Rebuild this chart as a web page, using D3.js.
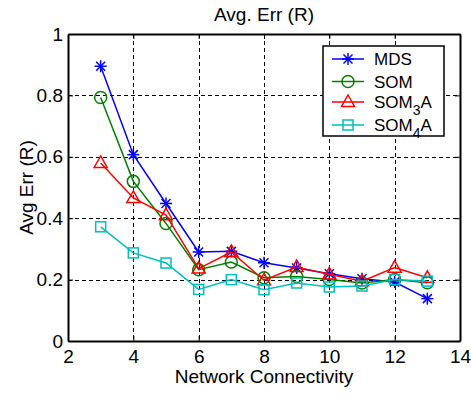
<!DOCTYPE html>
<html>
<head>
<meta charset="utf-8">
<script src="https://cdn.jsdelivr.net/npm/d3@7"></script>
<style>
  body { margin: 0; background: #fff; }
  svg { display: block; font-family: "Liberation Sans", Arial, sans-serif; }
</style>
</head>
<body>
<div id="chart"></div>
<script>
// data
const connectivity = [3, 4, 5, 6, 7, 8, 9, 10, 11, 12, 13];
const mds   = [0.895, 0.607, 0.448, 0.290, 0.292, 0.255, 0.238, 0.219, 0.203, 0.192, 0.138];
const som   = [0.793, 0.520, 0.383, 0.232, 0.257, 0.206, 0.210, 0.200, 0.189, 0.200, 0.190];
const som3a = [0.580, 0.466, 0.410, 0.236, 0.290, 0.198, 0.241, 0.217, 0.195, 0.239, 0.206];
const som4a = [0.372, 0.287, 0.254, 0.168, 0.200, 0.167, 0.189, 0.176, 0.179, 0.200, 0.195];
const xTicks = [2, 4, 6, 8, 10, 12, 14];
const yTicks = [0, 0.2, 0.4, 0.6, 0.8, 1];

const series = [
  { name: "MDS", sub: null, values: mds, color: "#0000ff", marker: "star" },
  { name: "SOM", sub: null, values: som, color: "#008000", marker: "circle" },
  { name: "SOM", sub: "3", values: som3a, color: "#ff0000", marker: "triangle" },
  { name: "SOM", sub: "4", values: som4a, color: "#00bfbf", marker: "square" }
];

const W = 471, H = 394;
const margin = { top: 34, right: 11, bottom: 53, left: 68 };
const fontSize = 19;

const svg = d3.select("#chart").append("svg")
  .attr("width", W).attr("height", H);

const x = d3.scaleLinear().domain([2, 14]).range([margin.left, W - margin.right]);
const y = d3.scaleLinear().domain([0, 1]).range([H - margin.bottom, margin.top]);

// grid
const grid = svg.append("g").attr("stroke", "#000").attr("stroke-width", 1)
  .attr("stroke-dasharray", "4,3").attr("shape-rendering", "crispEdges");
grid.selectAll(".gx").data(xTicks.slice(1, -1)).enter().append("line")
  .attr("x1", d => Math.round(x(d)) + 0.5).attr("x2", d => Math.round(x(d)) + 0.5)
  .attr("y1", y(1)).attr("y2", y(0));
grid.selectAll(".gy").data(yTicks.slice(1, -1)).enter().append("line")
  .attr("y1", d => Math.round(y(d)) + 0.5).attr("y2", d => Math.round(y(d)) + 0.5)
  .attr("x1", x(2)).attr("x2", x(14));

// axes (ticks inside)
const axB = svg.append("g").attr("transform", `translate(0,${y(0)})`)
  .call(d3.axisBottom(x).tickValues(xTicks).tickSizeInner(-5).tickSizeOuter(0).tickPadding(9));
const axL = svg.append("g").attr("transform", `translate(${x(2)},0)`)
  .call(d3.axisLeft(y).tickValues(yTicks).tickSizeInner(-5).tickSizeOuter(0).tickPadding(5).tickFormat(d3.format("")));
const axT = svg.append("g").attr("transform", `translate(0,${y(1)})`)
  .call(d3.axisTop(x).tickValues(xTicks).tickSizeInner(-5).tickSizeOuter(0).tickFormat(""));
const axR = svg.append("g").attr("transform", `translate(${x(14)},0)`)
  .call(d3.axisRight(y).tickValues(yTicks).tickSizeInner(-5).tickSizeOuter(0).tickFormat(""));
[axB, axL, axT, axR].forEach(a => {
  a.select(".domain").attr("stroke", "#000").attr("stroke-width", 2);
  a.selectAll(".tick line").attr("stroke", "#000");
  a.selectAll(".tick text").attr("fill", "#000").style("font-size", fontSize + "px")
    .style("font-family", "'Liberation Sans', Arial, sans-serif");
});

// markers
function drawMarker(g, type, color, cx, cy) {
  const s = 6;
  if (type === "star") {
    const p = g.append("g").attr("stroke", color).attr("stroke-width", 1.5);
    p.append("line").attr("x1", cx - s).attr("x2", cx + s).attr("y1", cy).attr("y2", cy);
    p.append("line").attr("x1", cx).attr("x2", cx).attr("y1", cy - s).attr("y2", cy + s);
    p.append("line").attr("x1", cx - s * 0.75).attr("x2", cx + s * 0.75).attr("y1", cy - s * 0.75).attr("y2", cy + s * 0.75);
    p.append("line").attr("x1", cx - s * 0.75).attr("x2", cx + s * 0.75).attr("y1", cy + s * 0.75).attr("y2", cy - s * 0.75);
  } else if (type === "circle") {
    g.append("circle").attr("cx", cx).attr("cy", cy).attr("r", 6)
      .attr("fill", "none").attr("stroke", color).attr("stroke-width", 1.5);
  } else if (type === "triangle") {
    g.append("path").attr("d", `M${cx},${cy - 7}L${cx + 6.5},${cy + 4.5}L${cx - 6.5},${cy + 4.5}Z`)
      .attr("fill", "none").attr("stroke", color).attr("stroke-width", 1.5);
  } else {
    g.append("rect").attr("x", cx - 5).attr("y", cy - 5).attr("width", 10).attr("height", 10)
      .attr("fill", "none").attr("stroke", color).attr("stroke-width", 1.5);
  }
}

const line = d3.line().x(d => x(d[0])).y(d => y(d[1]));
series.forEach(s => {
  const pts = connectivity.map((c, i) => [c, s.values[i]]);
  const g = svg.append("g");
  g.append("path").datum(pts).attr("d", line)
    .attr("fill", "none").attr("stroke", s.color).attr("stroke-width", 1.5);
  pts.forEach(p => drawMarker(g, s.marker, s.color, x(p[0]), y(p[1])));
});

// title and labels
svg.append("text").attr("x", (x(2) + x(14)) / 2).attr("y", 20.5)
  .attr("text-anchor", "middle").style("font-size", fontSize + "px").text("Avg. Err (R)");
svg.append("text").attr("x", (x(2) + x(14)) / 2).attr("y", 383)
  .attr("text-anchor", "middle").style("font-size", fontSize + "px").text("Network Connectivity");
svg.append("text").attr("transform", `translate(33,${(y(0) + y(1)) / 2}) rotate(-90)`)
  .attr("text-anchor", "middle").style("font-size", fontSize + "px").text("Avg Err (R)");

// legend
const lg = svg.append("g").attr("transform", "translate(323,46)");
lg.append("rect").attr("x", 0).attr("y", 0).attr("width", 121).attr("height", 90)
  .attr("fill", "#fff").attr("stroke", "#000").attr("stroke-width", 1.5);
const rowY = [13, 35.5, 56, 79];
series.forEach((s, i) => {
  const ry = rowY[i];
  lg.append("line").attr("x1", 9).attr("x2", 41).attr("y1", ry).attr("y2", ry)
    .attr("stroke", s.color).attr("stroke-width", 1.5);
  drawMarker(lg, s.marker, s.color, 25, ry);
  const t = lg.append("text").attr("x", 51).attr("y", ry + 6).style("font-size", "17px").attr("fill", "#000");
  t.append("tspan").text(s.name);
  if (s.sub) {
    t.append("tspan").attr("dy", 7).style("font-size", "14px").text(s.sub);
    t.append("tspan").attr("dy", -7).text("A");
  }
});
</script>
</body>
</html>
